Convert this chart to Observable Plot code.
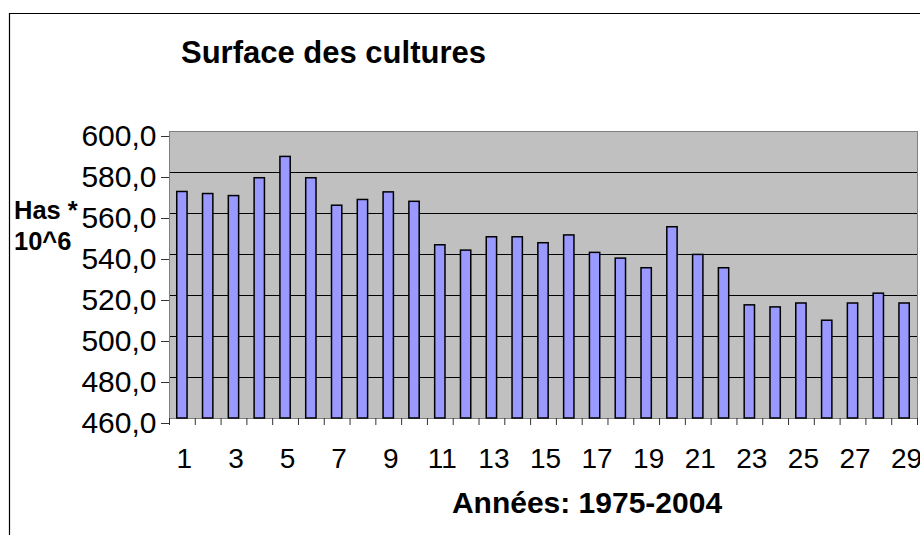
<!DOCTYPE html>
<html>
<head>
<meta charset="utf-8">
<script src="https://cdn.jsdelivr.net/npm/d3@7"></script>
<script src="https://cdn.jsdelivr.net/npm/@observablehq/plot@0.6"></script>
<style>
  html, body { margin: 0; padding: 0; background: white; }
  #chart { width: 920px; height: 535px; overflow: hidden; }
</style>
</head>
<body>
<div id="chart"></div>
<script>
// Data (crop area, millions of hectares), years 1..29
const years = [1,2,3,4,5,6,7,8,9,10,11,12,13,14,15,16,17,18,19,20,21,22,23,24,25,26,27,28,29];
const surfaces = [570.5,569.5,568.5,577.2,587.6,577.2,563.8,566.6,570.3,565.7,544.5,541.9,548.4,548.4,545.5,549.3,540.8,538.0,533.3,553.3,539.8,533.3,515.2,514.2,516.1,507.7,516.1,520.9,516.1];
const yTicks = [460,480,500,520,540,560,580,600];
const xTickLabels = [1,3,5,7,9,11,13,15,17,19,21,23,25,27,29];
const xBoundaries = [0.5,1.5,2.5,3.5,4.5,5.5,6.5,7.5,8.5,9.5,10.5,11.5,12.5,13.5,14.5,15.5,16.5,17.5,18.5,19.5,20.5,21.5,22.5,23.5,24.5,25.5,26.5,27.5,28.5,29.5];
const titleText = "Surface des cultures";
const xTitle = "Années: 1975-2004";
const yTitleLines = ["Has *", "10^6"];

const data = years.map((y, i) => ({year: y, value: surfaces[i]}));
const fmt = d => d.toFixed(1).replace(".", ",");
const FONT = "'Liberation Sans', Arial, Helvetica, sans-serif";

const chart = Plot.plot({
  width: 920,
  height: 535,
  marginLeft: 169,
  marginRight: 3,
  marginTop: 131,
  marginBottom: 117,
  style: {fontFamily: FONT, background: "white", color: "black"},
  x: {type: "linear", domain: [0.5, 29.5]},
  y: {type: "linear", domain: [460, 600]},
  marks: [
    Plot.frame({fill: "#C0C0C0", stroke: null}),
    Plot.gridY(yTicks.filter(t => t > 460 && t < 600), {stroke: "#000", strokeOpacity: 1, strokeWidth: 1}),
    Plot.frame({stroke: "#808080", strokeWidth: 1}),
    Plot.rectY(data, {
      x1: d => d.year - 0.2,
      x2: d => d.year + 0.2,
      y1: 460,
      y2: "value",
      fill: "#9999FF",
      stroke: "#000",
      strokeWidth: 1.5
    }),
    Plot.axisY({ticks: yTicks, tickSize: 8, tickPadding: 5, tickFormat: fmt, fontSize: 30, dy: 5, label: null, color: "black", stroke: "#333"}),
    Plot.axisX({ticks: xBoundaries, tickSize: 7, tickFormat: () => "", label: null, stroke: "#333"}),
    Plot.axisX({ticks: xTickLabels, tickSize: 0, tickPadding: 30, dx: 2, tickFormat: d => String(d), fontSize: 28, label: null, color: "black"})
  ]
});

document.getElementById("chart").appendChild(chart);

const svg = d3.select(chart);
// Outer chart-area border (clipped by the picture on the right and bottom)
svg.append("path")
  .attr("d", "M9.5,535 L9.5,13.5 L920,13.5")
  .attr("fill", "none").attr("stroke", "#000").attr("stroke-width", 1.2);

svg.append("text")
  .attr("x", 181).attr("y", 63).attr("text-anchor", "start")
  .attr("font-family", FONT).attr("font-weight", "bold").attr("font-size", 31)
  .attr("fill", "#000")
  .text(titleText);

svg.append("text")
  .attr("x", 587).attr("y", 513).attr("text-anchor", "middle")
  .attr("font-family", FONT).attr("font-weight", "bold").attr("font-size", 30)
  .attr("fill", "#000")
  .text(xTitle);

yTitleLines.forEach((line, i) => {
  svg.append("text")
    .attr("x", 14).attr("y", 219 + i * 31).attr("text-anchor", "start")
    .attr("font-family", FONT).attr("font-weight", "bold").attr("font-size", 25.5)
    .attr("fill", "#000")
    .text(line);
});
</script>
</body>
</html>
